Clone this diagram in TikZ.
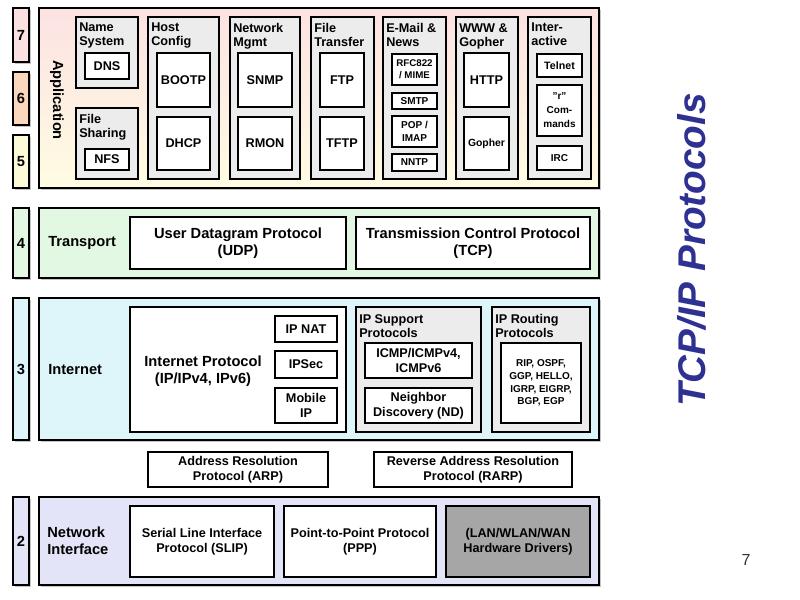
\documentclass[tikz,border=0pt]{standalone}
\usepackage{fontspec}
\setmainfont{Liberation Sans}
\usepackage{tikz}
\usetikzlibrary{shadows}

\definecolor{appTop}{RGB}{252,226,226}
\definecolor{appBottom}{RGB}{255,252,226}
\definecolor{numSeven}{RGB}{250,224,224}
\definecolor{numSix}{RGB}{250,216,190}
\definecolor{numFive}{RGB}{253,250,216}
\definecolor{transFill}{RGB}{226,248,226}
\definecolor{inetFill}{RGB}{222,245,250}
\definecolor{netFill}{RGB}{228,228,248}
\definecolor{groupFill}{RGB}{236,236,236}
\definecolor{driverFill}{RGB}{166,166,166}
\definecolor{titleBlue}{RGB}{46,49,146}

\begin{document}
\begin{tikzpicture}[x=0.75pt,y=-0.75pt,
  corners/.style n args={4}{minimum width={(#3-#1)*0.75pt}, minimum height={(#4-#2)*0.75pt},
    at={({(#1+#3)/2},{(#2+#4)/2})}},
  layerbox/.style={draw, line width=1.3pt, inner sep=0pt,
    drop shadow={shadow xshift=1.5pt, shadow yshift=-1.5pt, fill=black!45}},
  numbox/.style={layerbox, font=\fontsize{11}{11}\bfseries\selectfont},
  groupbox/.style={draw, fill=groupFill, line width=1.1pt, inner sep=0pt},
  protobox/.style={draw, fill=white, line width=1.1pt, inner sep=0pt, align=center,
    font=\fontsize{9.5}{11}\bfseries\selectfont},
  smallbox/.style={protobox, font=\fontsize{7.5}{10}\bfseries\selectfont},
  bigbox/.style={protobox, font=\fontsize{11}{13}\bfseries\selectfont},
  grouptitle/.style={anchor=north west, align=left, inner sep=0pt,
    font=\fontsize{9.5}{10.5}\bfseries\selectfont},
  layername/.style={anchor=west, align=left, inner sep=0pt,
    font=\fontsize{11}{13}\bfseries\selectfont}]

\useasboundingbox (0,0) rectangle (800,600);

% layer numbers
\node[numbox, fill=numSeven, corners={13}{8}{29}{62}] (n7) {7};
\node[numbox, fill=numSix, corners={13}{72}{29}{125}] (n6) {6};
\node[numbox, fill=numFive, corners={13}{135}{29}{188}] (n5) {5};
\node[numbox, fill=transFill, corners={13}{208}{29}{278}] (n4) {4};
\node[numbox, fill=inetFill, corners={13}{298}{29}{440}] (n3) {3};
\node[numbox, fill=netFill, corners={13}{497}{29}{585}] (n2) {2};

% application layer
\node[layerbox, top color=appTop, bottom color=appBottom, corners={39}{8}{599}{188}] (app) {};
\node[rotate=-90, inner sep=0pt, font=\fontsize{11}{11}\bfseries\selectfont] (appname) at (57,100) {Application};

\node[groupbox, corners={76}{17}{138}{88}] (names) {};
\node[grouptitle] (namesT) at (79,23) {Name\\System};
\node[protobox, corners={85}{53}{129}{79}] (dns) {DNS};

\node[groupbox, corners={76}{108}{138}{179}] (share) {};
\node[grouptitle] (shareT) at (79,114) {File\\Sharing};
\node[protobox, corners={85}{149}{129}{170}] (nfs) {NFS};

\node[groupbox, corners={148}{17}{219}{179}] (host) {};
\node[grouptitle] (hostT) at (151,23) {Host\\Config};
\node[protobox, corners={157}{53}{210}{107}] (bootp) {BOOTP};
\node[protobox, corners={157}{117}{210}{170}] (dhcp) {DHCP};

\node[groupbox, corners={230}{17}{300}{179}] (mgmt) {};
\node[grouptitle] (mgmtT) at (233,23) {Network\\Mgmt};
\node[protobox, corners={238}{53}{292}{107}] (snmp) {SNMP};
\node[protobox, corners={238}{117}{292}{170}] (rmon) {RMON};

\node[groupbox, corners={311}{17}{374}{179}] (xfer) {};
\node[grouptitle] (xferT) at (314,23) {File\\Transfer};
\node[protobox, corners={320}{53}{364}{107}] (ftp) {FTP};
\node[protobox, corners={320}{117}{364}{170}] (tftp) {TFTP};

\node[groupbox, corners={383}{17}{446}{179}] (mail) {};
\node[grouptitle] (mailT) at (386,23) {E-Mail \&\\News};
\node[smallbox, font=\fontsize{7.3}{9}\bfseries\selectfont, corners={392}{54}{437}{85}] (rfc) {RFC822\\/ MIME};
\node[smallbox, corners={392}{93}{437}{109}] (smtp) {SMTP};
\node[smallbox, corners={392}{116}{437}{147}] (pop) {POP /\\IMAP};
\node[smallbox, corners={392}{154}{437}{171}] (nntp) {NNTP};

\node[groupbox, corners={456}{17}{518}{179}] (www) {};
\node[grouptitle] (wwwT) at (459,23) {WWW \&\\Gopher};
\node[protobox, corners={464}{53}{509}{107}] (http) {HTTP};
\node[smallbox, font=\fontsize{7.8}{9}\bfseries\selectfont, corners={464}{117}{509}{170}] (gopher) {Gopher};

\node[groupbox, corners={528}{17}{591}{179}] (inter) {};
\node[grouptitle] (interT) at (531,23) {Inter-\\active};
\node[smallbox, font=\fontsize{8}{10}\bfseries\selectfont, corners={537}{54}{582}{77}] (telnet) {Telnet};
\node[smallbox, font=\fontsize{7.5}{10.5}\bfseries\selectfont, corners={537}{85}{582}{136}] (rcmd) {"r"\\Com-\\mands};
\node[smallbox, corners={537}{146}{582}{170}] (irc) {IRC};

% transport layer
\node[layerbox, fill=transFill, corners={39}{208}{599}{278}] (trans) {};
\node[layername] (transT) at (48,243) {Transport};
\node[bigbox, corners={130}{217}{346}{269}] (udp) {User Datagram Protocol\\(UDP)};
\node[bigbox, corners={356}{217}{590}{269}] (tcp) {Transmission Control Protocol\\(TCP)};

% internet layer
\node[layerbox, fill=inetFill, corners={39}{298}{599}{440}] (inet) {};
\node[layername] (inetT) at (48,370) {Internet};
\node[protobox, corners={130}{307}{346}{432}] (ip) {};
\node[bigbox, draw=none, fill=none] (ipT) at (203,371) {Internet Protocol\\(IP/IPv4, IPv6)};
\node[protobox, corners={275}{316}{337}{342}] (nat) {IP NAT};
\node[protobox, corners={275}{351}{337}{378}] (ipsec) {IPSec};
\node[protobox, corners={275}{388}{337}{423}] (mobip) {Mobile\\IP};

\node[groupbox, corners={356}{307}{481}{432}] (support) {};
\node[grouptitle] (supportT) at (359,314) {IP Support\\Protocols};
\node[protobox, corners={365}{343}{472}{378}] (icmp) {ICMP/ICMPv4,\\ICMPv6};
\node[protobox, corners={365}{388}{472}{423}] (nd) {Neighbor\\Discovery (ND)};

\node[groupbox, corners={492}{307}{590}{432}] (routing) {};
\node[grouptitle] (routingT) at (495,314) {IP Routing\\Protocols};
\node[smallbox, font=\fontsize{7.5}{9.5}\bfseries\selectfont, corners={501}{343}{581}{423}] (routes) {RIP, OSPF,\\GGP, HELLO,\\IGRP, EIGRP,\\BGP, EGP};

% address resolution
\node[protobox, corners={148}{452}{328}{487}] (arp) {Address Resolution\\Protocol (ARP)};
\node[protobox, corners={374}{452}{572}{487}] (rarp) {Reverse Address Resolution\\Protocol (RARP)};

% network interface layer
\node[layerbox, fill=netFill, corners={39}{497}{599}{585}] (netif) {};
\node[layername] (netifT) at (47,541) {Network\\Interface};
\node[protobox, corners={130}{506}{274}{577}] (slip) {Serial Line Interface\\Protocol (SLIP)};
\node[protobox, corners={284}{506}{436}{577}] (ppp) {Point-to-Point Protocol\\(PPP)};
\node[protobox, fill=driverFill, corners={446}{506}{590}{577}] (drivers) {(LAN/WLAN/WAN\\Hardware Drivers)};

% title and page number
\node[rotate=90, inner sep=0pt, text=titleBlue, font=\fontsize{29}{29}\bfseries\itshape\selectfont] (title) at (692,250) {TCP/IP Protocols};
\node[inner sep=0pt, text=black!80, font=\fontsize{12}{12}\selectfont] (page) at (746,560) {7};

\end{tikzpicture}
\end{document}
